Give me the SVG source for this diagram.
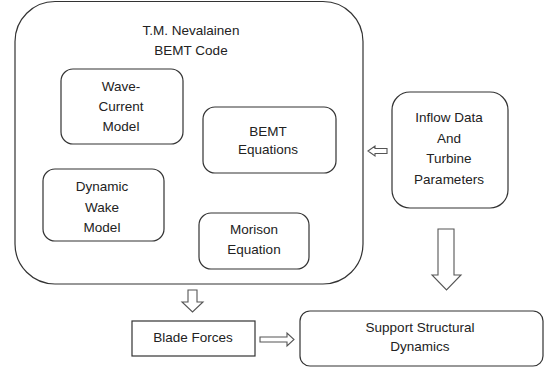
<svg xmlns="http://www.w3.org/2000/svg" width="548" height="370" viewBox="0 0 548 370">
<style>
.box{fill:#fff;stroke:#333;stroke-width:1.2}
.arr{fill:#fff;stroke:#555;stroke-width:1.1;stroke-linejoin:miter}
text{font-family:"Liberation Sans",Arial,sans-serif;font-size:13.5px;fill:#222;text-anchor:middle}
</style>
<rect width="548" height="370" fill="#fff"/>
<g id="bemt-code">
<rect class="box" x="15" y="1.5" width="348" height="282.5" rx="40"/>
<text x="191" y="35">T.M. Nevalainen</text>
<text x="191" y="55">BEMT Code</text>
</g>
<g id="wave-current">
<rect class="box" x="61" y="69" width="122" height="75" rx="12"/>
<text x="121" y="91">Wave-</text>
<text x="121" y="111">Current</text>
<text x="121" y="131">Model</text>
</g>
<g id="bemt-eq">
<rect class="box" x="203" y="107" width="133" height="66" rx="12"/>
<text x="268" y="136">BEMT</text>
<text x="268" y="154">Equations</text>
</g>
<g id="dynamic-wake">
<rect class="box" x="43" y="169" width="121" height="72" rx="12"/>
<text x="102" y="191">Dynamic</text>
<text x="102" y="212">Wake</text>
<text x="102" y="232">Model</text>
</g>
<g id="morison">
<rect class="box" x="199" y="213" width="110" height="56" rx="12"/>
<text x="254" y="234">Morison</text>
<text x="254" y="254">Equation</text>
</g>
<g id="inflow">
<rect class="box" x="392" y="92" width="116" height="116" rx="18"/>
<text x="449" y="122">Inflow Data</text>
<text x="449" y="143">And</text>
<text x="449" y="163">Turbine</text>
<text x="449" y="184">Parameters</text>
</g>
<g id="blade-forces">
<rect class="box" x="132" y="321" width="123" height="35" rx="0"/>
<text x="193" y="342">Blade Forces</text>
</g>
<g id="support">
<rect class="box" x="300" y="311" width="243" height="55" rx="10"/>
<text x="420" y="332">Support Structural</text>
<text x="420" y="351">Dynamics</text>
</g>
<g id="connectors">
<polygon class="arr" points="368,151 375,146 375,148.5 387,148.5 387,153.5 375,153.5 375,156"/>
<polygon class="arr" points="438,229 454,229 454,275 461,275 446.5,290 432,275 438,275"/>
<polygon class="arr" points="188,290 197,290 197,302 203,302 192.5,312 182,302 188,302"/>
<polygon class="arr" points="260,337 287,337 287,333 294,339.5 287,346 287,342 260,342"/>
</g>
</svg>
